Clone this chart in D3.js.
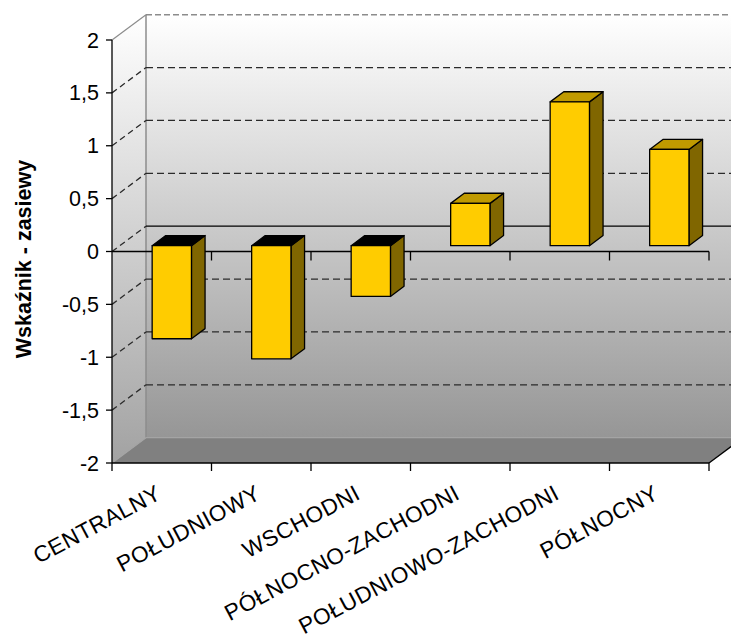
<!DOCTYPE html>
<html>
<head>
<meta charset="utf-8">
<script src="https://cdn.jsdelivr.net/npm/d3@7"></script>
<style>
  body { margin: 0; background: #fff; }
  svg { display: block; font-family: Arial, "Liberation Sans", sans-serif; }
</style>
</head>
<body>
<svg id="chart" width="731" height="639"></svg>
<script>
// chart data
var categories = ['CENTRALNY', 'POŁUDNIOWY', 'WSCHODNI', 'PÓŁNOCNO-ZACHODNI',
                  'POŁUDNIOWO-ZACHODNI', 'PÓŁNOCNY'];
var values = [-0.88, -1.07, -0.48, 0.40, 1.36, 0.91];
var yTicks = [-2, -1.5, -1, -0.5, 0, 0.5, 1, 1.5, 2];
var yTitle = 'Wskaźnik - zasiewy';

// depth of the 3d box (front plane -> back wall)
var DX = 34, DY = 25.3;
var barDepth0 = 0.23, barDepth1 = 0.63;

var svg = d3.select('#chart');
var x = d3.scaleBand().domain(categories).range([112, 709]);
var y = d3.scaleLinear().domain([-2, 2]).range([463, 40]);
var xl = x.range()[0], xr = x.range()[1];

// project a point at depth d (0 = front, 1 = back wall)
function P(px, v, d) {
  return [px + d * DX, y(v) - d * DY];
}
function poly(pts) {
  return pts.map(function(p) { return p[0] + ',' + p[1]; }).join(' ');
}
var fmt = function(v) { return String(v).replace('.', ','); };

// gradients for walls
var defs = svg.append('defs');
var g1 = defs.append('linearGradient').attr('id', 'wall')
  .attr('gradientUnits', 'userSpaceOnUse')
  .attr('x1', 0).attr('x2', 0).attr('y1', y(2) - DY).attr('y2', y(-2) - DY);
g1.append('stop').attr('offset', 0).attr('stop-color', '#ffffff');
g1.append('stop').attr('offset', 1).attr('stop-color', '#969696');
var g2 = defs.append('linearGradient').attr('id', 'side')
  .attr('gradientUnits', 'userSpaceOnUse')
  .attr('x1', 0).attr('x2', 0).attr('y1', y(2) - DY).attr('y2', y(-2));
g2.append('stop').attr('offset', 0).attr('stop-color', '#ffffff');
g2.append('stop').attr('offset', 1).attr('stop-color', '#a2a2a2');

// back wall
svg.append('polygon')
  .attr('points', poly([P(xl, 2, 1), P(xr, 2, 1), P(xr, -2, 1), P(xl, -2, 1)]))
  .attr('fill', 'url(#wall)');
// left wall
svg.append('polygon')
  .attr('points', poly([P(xl, 2, 0), P(xl, 2, 1), P(xl, -2, 1), P(xl, -2, 0)]))
  .attr('fill', 'url(#side)');
// floor
svg.append('polygon')
  .attr('points', poly([P(xl, -2, 0), P(xl, -2, 1), P(xr, -2, 1), P(xr, -2, 0)]))
  .attr('fill', '#808080');

// wall edges
svg.append('line')
  .attr('x1', P(xl, 2, 1)[0]).attr('y1', P(xl, 2, 1)[1])
  .attr('x2', P(xl, -2, 1)[0]).attr('y2', P(xl, -2, 1)[1])
  .attr('stroke', '#8c8c8c').attr('stroke-width', 1.5);
svg.append('line')
  .attr('x1', P(xl, 2, 1)[0]).attr('y1', P(xl, 2, 1)[1])
  .attr('x2', P(xr, 2, 1)[0]).attr('y2', P(xr, 2, 1)[1])
  .attr('stroke', '#8c8c8c').attr('stroke-width', 1.5)
  .attr('stroke-dasharray', '6,3');
svg.append('line')
  .attr('x1', P(xl, 2, 0)[0]).attr('y1', P(xl, 2, 0)[1])
  .attr('x2', P(xl, 2, 1)[0]).attr('y2', P(xl, 2, 1)[1])
  .attr('stroke', '#8c8c8c').attr('stroke-width', 1.2);
svg.append('line')
  .attr('x1', P(xl, -2, 1)[0]).attr('y1', P(xl, -2, 1)[1])
  .attr('x2', P(xr, -2, 1)[0]).attr('y2', P(xr, -2, 1)[1])
  .attr('stroke', '#a4a4a4').attr('stroke-width', 1.2);
svg.append('line')
  .attr('x1', P(xl, -2, 0)[0]).attr('y1', P(xl, -2, 0)[1])
  .attr('x2', P(xl, -2, 1)[0]).attr('y2', P(xl, -2, 1)[1])
  .attr('stroke', '#a4a4a4').attr('stroke-width', 1.2);

// gridlines on back wall and left wall
var grid = yTicks.filter(function(v) { return v > -2 && v < 2; });
svg.selectAll('.gridBack').data(grid).enter().append('line')
  .attr('x1', function(v) { return P(xl, v, 1)[0]; })
  .attr('y1', function(v) { return P(xl, v, 1)[1]; })
  .attr('x2', function(v) { return P(xr, v, 1)[0]; })
  .attr('y2', function(v) { return P(xr, v, 1)[1]; })
  .attr('stroke', function(v) { return v == 0 ? '#000' : '#2a2a2a'; })
  .attr('stroke-width', 1.3)
  .attr('stroke-dasharray', function(v) { return v == 0 ? null : '7,4'; });
svg.selectAll('.gridSide').data(grid).enter().append('line')
  .attr('x1', function(v) { return P(xl, v, 0)[0]; })
  .attr('y1', function(v) { return P(xl, v, 0)[1]; })
  .attr('x2', function(v) { return P(xl, v, 1)[0]; })
  .attr('y2', function(v) { return P(xl, v, 1)[1]; })
  .attr('stroke', '#2a2a2a').attr('stroke-width', 1.3)
  .attr('stroke-dasharray', '6,4');

// category boundaries for ticks
var bounds = categories.map(function(c) { return x(c); }).concat([xr]);

// zero axis on front plane
svg.append('line')
  .attr('x1', xl).attr('x2', xr).attr('y1', y(0)).attr('y2', y(0))
  .attr('stroke', '#000').attr('stroke-width', 1.3);
svg.selectAll('.tick0').data(bounds.slice(1)).enter().append('line')
  .attr('x1', function(d) { return d; }).attr('x2', function(d) { return d; })
  .attr('y1', y(0)).attr('y2', y(0) + 9)
  .attr('stroke', '#000').attr('stroke-width', 1.3);

// bars
var bw = x.bandwidth();
var bars = svg.selectAll('.bar').data(values).enter().append('g');
bars.each(function(v, i) {
  var g = d3.select(this);
  var x0 = x(categories[i]) + bw * 0.325;
  var x1 = x(categories[i]) + bw * 0.72;
  var top = Math.max(v, 0);
  g.append('polygon')
    .attr('points', poly([P(x1, 0, barDepth0), P(x1, 0, barDepth1),
                          P(x1, v, barDepth1), P(x1, v, barDepth0)]))
    .attr('fill', '#806600').attr('stroke', '#000').attr('stroke-width', 1.3)
    .attr('stroke-linejoin', 'round');
  g.append('polygon')
    .attr('points', poly([P(x0, top, barDepth0), P(x1, top, barDepth0),
                          P(x1, top, barDepth1), P(x0, top, barDepth1)]))
    .attr('fill', v < 0 ? '#000' : '#c09a00').attr('stroke', '#000')
    .attr('stroke-width', 1.3).attr('stroke-linejoin', 'round');
  g.append('polygon')
    .attr('points', poly([P(x0, 0, barDepth0), P(x1, 0, barDepth0),
                          P(x1, v, barDepth0), P(x0, v, barDepth0)]))
    .attr('fill', '#ffcc00').attr('stroke', '#000').attr('stroke-width', 1.3)
    .attr('stroke-linejoin', 'round');
});

// bottom category axis at -2
svg.append('line')
  .attr('x1', xl).attr('x2', xr).attr('y1', y(-2)).attr('y2', y(-2))
  .attr('stroke', '#000').attr('stroke-width', 1.3);
svg.append('line')
  .attr('x1', P(xr, -2, 0)[0]).attr('y1', P(xr, -2, 0)[1])
  .attr('x2', P(xr, -2, 1)[0]).attr('y2', P(xr, -2, 1)[1])
  .attr('stroke', '#000').attr('stroke-width', 1.3);
svg.selectAll('.tickB').data(bounds).enter().append('line')
  .attr('x1', function(d) { return d; }).attr('x2', function(d) { return d; })
  .attr('y1', y(-2)).attr('y2', y(-2) + 8)
  .attr('stroke', '#000').attr('stroke-width', 1.3);

// category labels
svg.selectAll('.catLabel').data(categories).enter().append('text')
  .attr('transform', function(c) {
    return 'translate(' + (x(c) + bw / 2 + 1) + ',498) rotate(-28)';
  })
  .attr('text-anchor', 'end')
  .attr('font-size', 22.5)
  .attr('letter-spacing', 0.5)
  .attr('fill', '#000')
  .text(function(c) { return c; });

// value axis on the front plane
svg.append('line')
  .attr('x1', xl).attr('x2', xl).attr('y1', y(2)).attr('y2', y(-2))
  .attr('stroke', '#000').attr('stroke-width', 1.3);
svg.selectAll('.tickY').data(yTicks).enter().append('line')
  .attr('x1', xl - 6).attr('x2', xl)
  .attr('y1', function(v) { return y(v); }).attr('y2', function(v) { return y(v); })
  .attr('stroke', '#000').attr('stroke-width', 1.3);
svg.selectAll('.yLabel').data(yTicks).enter().append('text')
  .attr('x', 99)
  .attr('y', function(v) { return y(v); })
  .attr('dy', '0.35em')
  .attr('text-anchor', 'end')
  .attr('font-size', 21.5)
  .text(fmt);

// value axis title
svg.append('text')
  .attr('transform', 'translate(31,259) rotate(-90)')
  .attr('text-anchor', 'middle')
  .attr('font-size', 21.5)
  .attr('font-weight', 'bold')
  .text(yTitle);
</script>
</body>
</html>
